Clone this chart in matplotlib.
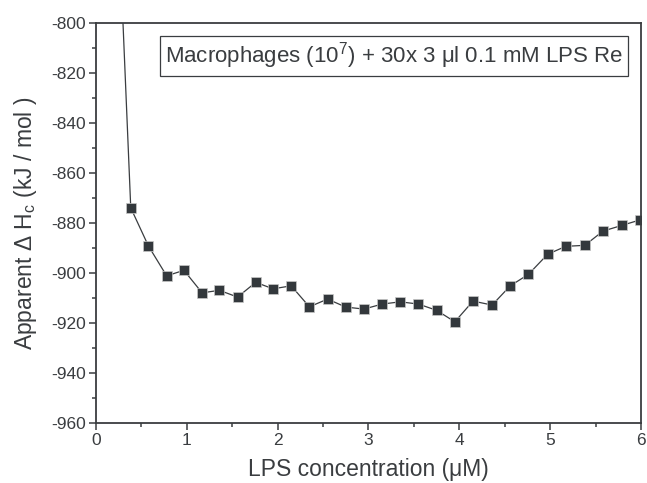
import matplotlib
matplotlib.use('Agg')
import matplotlib.pyplot as plt
from matplotlib.ticker import MultipleLocator

# LPS concentration (uM) and apparent enthalpy (kJ/mol)
conc = [0.19, 0.385, 0.58, 0.78, 0.97, 1.17, 1.36, 1.56, 1.76, 1.95, 2.15,
        2.35, 2.55, 2.75, 2.95, 3.15, 3.35, 3.55, 3.75, 3.95, 4.15,
        4.36, 4.56, 4.76, 4.97, 5.17, 5.38, 5.58, 5.79, 5.99]
dH = [-705.0, -873.8, -889.1, -901.0, -898.8, -907.8, -906.8, -909.5, -903.6,
      -906.2, -905.0, -913.4, -910.3, -913.5, -914.3, -912.3, -911.4, -912.3,
      -914.8, -919.4, -911.1, -912.7, -905.0, -900.4, -892.4, -889.2, -888.8,
      -883.1, -880.8, -878.6]

box_text = 'Macrophages (10$^\\mathregular{7}$) + 30x 3 \u03bcl 0.1 mM LPS Re'
xlabel = 'LPS concentration (\u03bcM)'
ylabel = 'Apparent \u0394 H$_\\mathregular{c}$ (kJ / mol )'

plt.rcParams['font.family'] = ['Liberation Sans', 'DejaVu Sans']
plt.rcParams['mathtext.fontset'] = 'custom'
plt.rcParams['mathtext.rm'] = 'Liberation Sans'
plt.rcParams['axes.unicode_minus'] = False

ink = '#3a3d40'

fig = plt.figure(figsize=(6.47, 4.83), dpi=100)
ax = fig.add_axes([0.148, 0.1236, 0.843, 0.828])

ax.plot(conc, dH, color=ink, lw=0.9, marker='s', ms=6.5,
        mfc='#33383c', mec='#c8c8c8', mew=0.5, clip_on=True)

ax.set_xlim(0, 6)
ax.set_ylim(-960, -800)
ax.xaxis.set_major_locator(MultipleLocator(1))
ax.xaxis.set_minor_locator(MultipleLocator(0.5))
ax.yaxis.set_major_locator(MultipleLocator(20))
ax.yaxis.set_minor_locator(MultipleLocator(10))

for s in ax.spines.values():
    s.set_color(ink)
    s.set_linewidth(1.3)
ax.tick_params(which='both', direction='out', color=ink, width=1.1,
               labelsize=12.5, labelcolor=ink, top=False, right=False)
ax.tick_params(which='major', length=5, pad=2)
ax.tick_params(which='minor', length=3)

ax.set_xlabel(xlabel, fontsize=16.5, color=ink, labelpad=7)
ax.set_ylabel(ylabel, fontsize=16.5, color=ink, labelpad=9)

ax.text(0.966, 0.957, box_text, transform=ax.transAxes, ha='right', va='top',
        fontsize=16, color=ink,
        bbox=dict(boxstyle='square,pad=0.22', fc='white', ec=ink, lw=0.9))

fig.savefig('out.png', dpi=100)
